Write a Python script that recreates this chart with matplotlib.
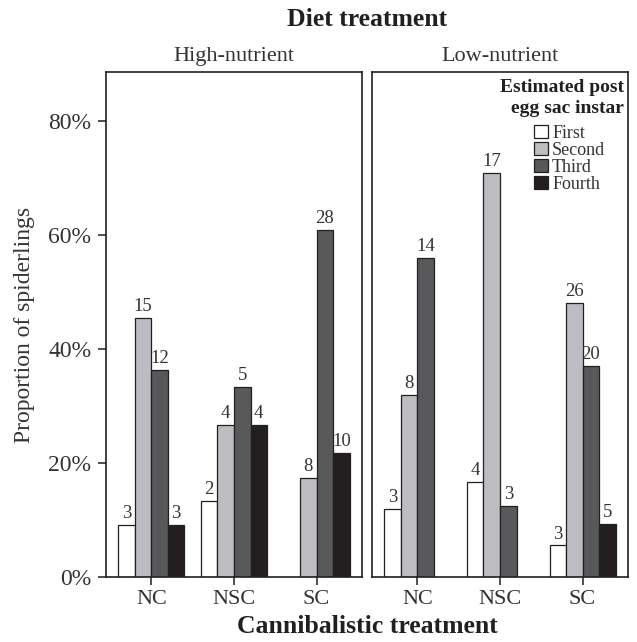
"""
Proportion of spiderlings per estimated post egg sac instar,
split by diet treatment (panels) and cannibalistic treatment (x).
"""

import matplotlib
matplotlib.use("Agg")
import matplotlib.pyplot as plt
import numpy as np
from matplotlib.patches import Patch

# --------- Data (counts) ---------
treatments = ["NC", "NSC", "SC"]
instars = ["First", "Second", "Third", "Fourth"]
diets = ["High-nutrient", "Low-nutrient"]

# rows = treatment, cols = instar
high_counts = np.array([
    [3, 15, 12, 3],
    [2, 4, 5, 4],
    [0, 8, 28, 10],
])
low_counts = np.array([
    [3, 8, 14, 0],
    [4, 17, 3, 0],
    [3, 26, 20, 5],
])

# --------- Style ---------
FONT = "Liberation Serif"
INK = "#231f20"
TXT = "#333333"
FILLS = ["#ffffff", "#bcbdc0", "#58595b", "#231f20"]
W, H, DPI = 637, 642, 100
plt.rcParams["font.family"] = [FONT, "DejaVu Serif"]


def px_box(x0, y0, x1, y1):
    # pixel box (top-left origin) -> figure fraction rect
    return [x0 / W, 1 - y1 / H, (x1 - x0) / W, (y1 - y0) / H]


def draw_panel(ax, counts, show_y):
    props = counts / counts.sum(axis=1, keepdims=True)
    x = np.arange(1, len(treatments) + 1)
    bw = 0.2
    offsets = (np.arange(len(instars)) - 1.5) * bw
    for j, inst in enumerate(instars):
        for i in range(len(treatments)):
            if counts[i, j] == 0:
                continue
            ax.bar(x[i] + offsets[j], props[i, j], width=bw, color=FILLS[j],
                   edgecolor=INK, linewidth=0.9, zorder=2)
            ax.annotate(str(counts[i, j]), (x[i] + offsets[j], props[i, j]),
                        xytext=(0, 2), textcoords="offset points",
                        ha="center", va="bottom", fontsize=13.5, color=TXT)
    ax.set_xlim(0.45, 3.55)
    ax.set_ylim(0, 0.886)
    ax.set_xticks(x)
    ax.set_xticklabels(treatments)
    ax.set_yticks([0, 0.2, 0.4, 0.6, 0.8])
    ax.set_yticklabels(["0%", "20%", "40%", "60%", "80%"])
    ax.tick_params(axis="both", direction="out", length=5.5, width=1.1,
                   color=INK, labelcolor=TXT)
    ax.tick_params(axis="x", pad=3.5, labelsize=16)
    ax.tick_params(axis="y", pad=5, labelsize=17)
    if not show_y:
        ax.tick_params(axis="y", left=False, labelleft=False)
    for s in ax.spines.values():
        s.set_color(INK)
        s.set_linewidth(1.2)


def main():
    fig = plt.figure(figsize=(W / DPI, H / DPI), dpi=DPI)
    ax_hi = fig.add_axes(px_box(106, 72, 362, 577))
    ax_lo = fig.add_axes(px_box(372, 72, 628, 577))

    draw_panel(ax_hi, high_counts, True)
    draw_panel(ax_lo, low_counts, False)

    # strip labels
    for ax, name in zip([ax_hi, ax_lo], diets):
        ax.text(0.5, 1 + 11 / 505, name, transform=ax.transAxes, ha="center",
                va="baseline", fontsize=16, color=TXT)

    fig.text(367 / W, 1 - 26 / H, "Diet treatment", ha="center", va="baseline",
             fontsize=18.5, fontweight="bold", color=INK)
    fig.text(367 / W, 1 - 633 / H, "Cannibalistic treatment", ha="center",
             va="baseline", fontsize=18.5, fontweight="bold", color=INK)
    fig.text(25 / W, 1 - 325 / H, "Proportion of spiderlings", rotation=90,
             ha="center", va="center", fontsize=17, color=TXT)

    # legend
    fig.text(624 / W, 1 - 98 / H, "Estimated post\negg sac instar",
             ha="right", va="center", fontsize=14, fontweight="bold",
             color=INK, linespacing=1.3, multialignment="right")
    handles = [Patch(facecolor=c, edgecolor=INK, linewidth=0.9) for c in FILLS]
    leg = ax_lo.legend(handles, instars, loc="upper left",
                       bbox_to_anchor=(534 / W, 1 - 125 / H),
                       bbox_transform=fig.transFigure, frameon=False,
                       fontsize=13, handlelength=0.75, handleheight=0.75,
                       handletextpad=0.25, labelspacing=0.0, borderpad=0,
                       borderaxespad=0)
    for t in leg.get_texts():
        t.set_color(TXT)

    fig.savefig("out.png", dpi=DPI)
    plt.close(fig)


if __name__ == "__main__":
    main()
